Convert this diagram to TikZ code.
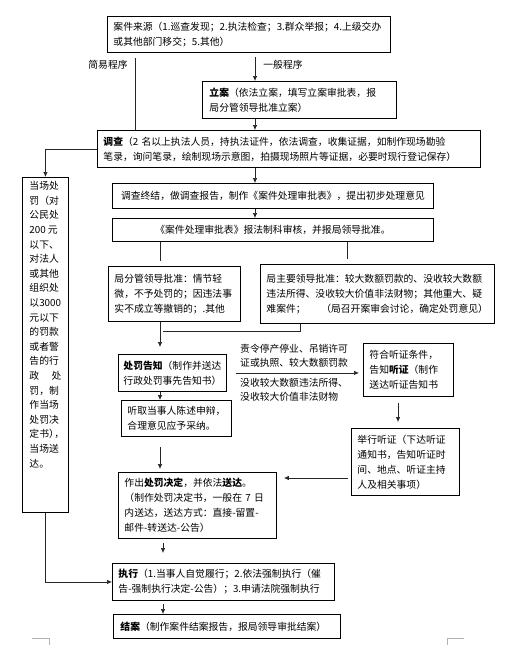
\documentclass[tikz,border=0pt]{standalone}
\usepackage{fontspec}
\setmainfont{Noto Sans CJK SC}
\usepackage{tikz}
\usetikzlibrary{arrows.meta}
\newcommand{\wuhao}{\fontsize{9.8pt}{15pt}\selectfont}

\begin{document}
\begin{tikzpicture}[x=1pt,y=-1pt,
        >={Latex[length=5pt,width=4.5pt]},
        every node/.style={font=\wuhao},
        kuang/.style={draw,line width=0.9pt,anchor=north west,align=left,inner xsep=6pt,inner ysep=0pt},
        xian/.style={line width=0.7pt,black!85},
      ]
      \useasboundingbox (0,0) rectangle (522,645);
      % spine
      \node[kuang, text width=271pt, minimum height=36pt] (laiyuan) at (107,16) {案件来源（1.巡查发现；2.执法检查；3.群众举报；4.上级交办\\或其他部门移交；5.其他）};
      \node[kuang, text width=180pt, inner xsep=7pt, minimum height=37pt] (lian) at (202,81) {\textbf{立案}（依法立案，填写立案审批表，报\\局分管领导批准立案）};
      \node[kuang, text width=371pt, minimum height=37pt] (diaocha) at (97,130) {\textbf{调查}（2 名以上执法人员，持执法证件，依法调查，收集证据，如制作现场勘验\\笔录，询问笔录，绘制现场示意图，拍摄现场照片等证据，必要时现行登记保存）};
      \node[kuang, text width=309pt, align=center, minimum height=25pt] (zhongjie) at (112,183) {调查终结，做调查报告，制作《案件处理审批表》，提出初步处理意见};
      \node[kuang, text width=309pt, align=center, minimum height=23pt] (shenpi) at (112,218) {《案件处理审批表》报法制科审核，并报局领导批准。};
      \node[kuang, text width=120pt, minimum height=55pt] (fenguan) at (108,266) {局分管领导批准：情节轻\\微，不予处罚的；因违法事\\实不成立等撤销的；.其他};
      \node[kuang, text width=222pt, minimum height=59pt] (zhuyao) at (260,264) {局主要领导批准：较大数额罚款的、没收较大数额\\违法所得、没收较大价值非法财物；其他重大、疑\\难案件；\hspace{1.6em}（局召开案审会讨论，确定处罚意见）};
      \node[kuang, text width=98pt, inner xsep=5pt, minimum height=37pt] (gaozhi) at (118,354) {\textbf{处罚告知}（制作并送达\\行政处罚事先告知书）};
      \node[kuang, text width=78pt, minimum height=53pt] (tingzheng) at (363,343) {符合听证条件，\\告知\textbf{听证}（制作\\送达听证告知书};
      \node[kuang, text width=98pt, minimum height=36pt] (tingqu) at (121,400) {听取当事人陈述申辩，\\合理意见应予采纳。};
      \node[kuang, text width=96pt, minimum height=67pt] (juxing) at (351,428) {举行听证（下达听证\\通知书，告知听证时\\间、地点、听证主持\\人及相关事项）};
      \node[kuang, text width=146pt, minimum height=66pt] (jueding) at (118,472) {作出\textbf{处罚决定}，并依法\textbf{送达}。\\（制作处罚决定书，一般在 7 日\\内送达，送达方式：直接-留置-\\邮件-转送达-公告）};
      \node[kuang, text width=210pt, inner xsep=6pt, minimum height=37pt] (zhixing) at (112,563) {\textbf{执行}（1.当事人自觉履行；2.依法强制执行（催\\告-强制执行决定-公告）；3.申请法院强制执行};
      \node[kuang, text width=213pt, inner xsep=7pt, minimum height=24pt] (jiean) at (113,614) {\textbf{结案}（制作案件结案报告，报局领导审批结案）};
      % simple procedure column
      \node[kuang, inner xsep=7pt, inner ysep=4pt] (dangchang) at (22,177) {\parbox[t][327pt][t]{32pt}{\fontsize{9.8pt}{14.6pt}\selectfont
        当场处\\罚（对\\公民处\\200 元\\以下、\\对法人\\或其他\\组织处\\以3000\\元以下\\的罚款\\或者警\\告的行\\政\hfill 处\\罚，制\\作当场\\处罚决\\定书）\kern-0.45em，\\当场送\\达。}};
      % labels
      \node (jianyi) at (108,65) {简易程序};
      \node (yiban) at (283,65) {一般程序};
      \node[anchor=south west, align=left, inner sep=0pt, font=\fontsize{9.8pt}{14.5pt}\selectfont] (tiaojian) at (240,368) {责令停产停业、吊销许可\\证或执照、较大数额罚款};
      \node[anchor=north west, align=left, inner sep=0pt, font=\fontsize{9.8pt}{14.5pt}\selectfont] (moshou) at (240,378) {没收较大数额违法所得、\\没收较大价值非法财物};
      % connectors
      \coordinate (zx) at (255,0);
      \coordinate (jx) at (135,0);
      \coordinate (zuo) at (160,0);
      \coordinate (you) at (347,0);
      \coordinate (yx) at (398,0);
      \coordinate (xia) at (163,0);
      \coordinate (hz) at (300,331);
      \coordinate (hy) at (0,478);
      \draw[xian,->] ([yshift=-4pt]laiyuan.south -| zx) -- (lian.north -| zx);
      \draw[xian] ([yshift=-5pt]laiyuan.south -| jx) -- (diaocha.north -| jx);
      \draw[xian,->] (lian.south -| zx) -- (diaocha.north -| zx);
      \draw[xian,->] (diaocha.south -| zx) -- (zhongjie.north -| zx);
      \draw[xian,->] (zhongjie.south -| zx) -- (shenpi.north -| zx);
      \draw[xian] (shenpi.south -| zuo) -- ([yshift=5pt]fenguan.north -| zuo);
      \draw[xian] (shenpi.south -| you) -- ([yshift=5pt]zhuyao.north -| you);
      \draw[xian,->] (fenguan.south -| zuo) -- ([yshift=7pt]gaozhi.north -| zuo);
      \draw[xian] (zhuyao.south -| hz) -- (hz) -- ([xshift=3pt]zuo |- hz);
      \draw[xian,->] ([xshift=9pt]gaozhi.east) -- ([xshift=-4pt]tingzheng.west |- gaozhi.east);
      \draw[xian,->] (gaozhi.south -| zuo) -- (tingqu.north -| zuo);
      \draw[xian,->] ([yshift=-6pt]tingzheng.south -| yx) -- ([yshift=6pt]juxing.north -| yx);
      \draw[xian,->] ([yshift=-10pt]tingqu.south -| zuo) -- ([yshift=3pt]jueding.north -| zuo);
      \draw[xian,->] ([xshift=-3pt]juxing.west |- hy) -- ([xshift=7pt]jueding.east |- hy);
      \draw[xian,->] ([yshift=-4pt]jueding.south -| xia) -- ([yshift=10pt]zhixing.north -| xia);
      \draw[xian,->] ([yshift=-3pt]zhixing.south -| xia) -- (jiean.north -| xia);
      \draw[xian,->] (diaocha.west) -| (dangchang.north);
      \draw[xian,->] (dangchang.south) |- (zhixing.west);
      % page corner marks
      \draw[gray!60, line width=0.5pt] (32,638) -- (49,638) -- (49,645);
      \draw[gray!60, line width=0.5pt] (447,645) -- (447,638) -- (464,638);
    \end{tikzpicture}
\end{document}
